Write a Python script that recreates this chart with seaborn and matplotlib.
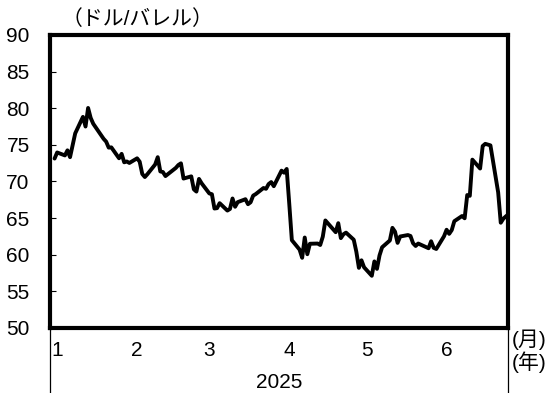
import matplotlib
matplotlib.use("Agg")
import matplotlib.pyplot as plt
import matplotlib.dates as mdates
from matplotlib import font_manager
import seaborn as sns
import pandas as pd
import numpy as np

# WTI-like daily closes, Jan 2 - Jun 27 2025
dates = [
    "2025-01-02", "2025-01-03", "2025-01-06", "2025-01-07", "2025-01-08", "2025-01-10",
    "2025-01-13", "2025-01-14", "2025-01-15", "2025-01-16", "2025-01-17", "2025-01-21",
    "2025-01-22", "2025-01-23", "2025-01-24", "2025-01-27", "2025-01-28", "2025-01-29",
    "2025-01-30", "2025-01-31",
    "2025-02-03", "2025-02-04", "2025-02-05", "2025-02-06", "2025-02-07", "2025-02-10",
    "2025-02-11", "2025-02-12", "2025-02-13", "2025-02-14", "2025-02-18", "2025-02-19",
    "2025-02-20", "2025-02-21", "2025-02-24", "2025-02-25", "2025-02-26", "2025-02-27",
    "2025-02-28",
    "2025-03-03", "2025-03-04", "2025-03-05", "2025-03-06", "2025-03-07", "2025-03-10",
    "2025-03-11", "2025-03-12", "2025-03-13", "2025-03-14", "2025-03-17", "2025-03-18",
    "2025-03-19", "2025-03-20", "2025-03-21", "2025-03-24", "2025-03-25", "2025-03-26",
    "2025-03-27", "2025-03-28", "2025-03-31",
    "2025-04-01", "2025-04-02", "2025-04-03", "2025-04-04", "2025-04-07", "2025-04-08",
    "2025-04-09", "2025-04-10", "2025-04-11", "2025-04-14", "2025-04-15", "2025-04-16",
    "2025-04-17", "2025-04-21", "2025-04-22", "2025-04-23", "2025-04-24", "2025-04-25",
    "2025-04-28", "2025-04-29", "2025-04-30",
    "2025-05-01", "2025-05-02", "2025-05-05", "2025-05-06", "2025-05-07", "2025-05-08",
    "2025-05-09", "2025-05-12", "2025-05-13", "2025-05-14", "2025-05-15", "2025-05-16",
    "2025-05-19", "2025-05-20", "2025-05-21", "2025-05-22", "2025-05-23", "2025-05-27",
    "2025-05-28", "2025-05-29", "2025-05-30",
    "2025-06-02", "2025-06-03", "2025-06-04", "2025-06-05", "2025-06-06", "2025-06-09",
    "2025-06-10", "2025-06-11", "2025-06-12", "2025-06-13", "2025-06-16", "2025-06-17",
    "2025-06-18", "2025-06-20", "2025-06-23", "2025-06-24", "2025-06-25", "2025-06-26",
    "2025-06-27",
]
prices = [
    73.13, 73.96, 73.56, 74.25, 73.32, 76.57,
    78.82, 77.50, 80.04, 78.68, 77.88, 75.83,
    75.44, 74.62, 74.66, 73.17, 73.77, 72.62,
    72.73, 72.53,
    73.16, 72.70, 71.03, 70.61, 71.00, 72.32,
    73.32, 71.37, 71.29, 70.74, 71.85, 72.25,
    72.48, 70.40, 70.70, 68.93, 68.62, 70.35,
    69.76,
    68.37, 68.26, 66.31, 66.36, 67.04, 66.03,
    66.25, 67.68, 66.55, 67.18, 67.58, 66.90,
    67.16, 68.07, 68.28, 69.11, 69.00, 69.65,
    69.92, 69.36, 71.48,
    71.20, 71.71, 66.95, 61.99, 60.70, 59.58,
    62.35, 60.07, 61.50, 61.53, 61.33, 62.47,
    64.68, 63.08, 64.31, 62.27, 62.79, 63.02,
    62.05, 60.42, 58.21,
    59.24, 58.29, 57.13, 59.09, 58.07, 59.91,
    61.02, 61.95, 63.67, 63.15, 61.62, 62.49,
    62.69, 62.56, 61.57, 61.20, 61.53, 60.89,
    61.84, 60.94, 60.79,
    62.52, 63.41, 62.85, 63.37, 64.58, 65.29,
    64.98, 68.15, 68.04, 72.98, 71.77, 74.84,
    75.14, 74.93, 68.51, 64.37, 64.92, 65.24,
    65.52,
]
month_labels = ["1", "2", "3", "4", "5", "6"]
month_label_dates = ["2025-01-03", "2025-02-03", "2025-03-03", "2025-04-03", "2025-05-03", "2025-06-03"]
y_ticks = [50, 55, 60, 65, 70, 75, 80, 85, 90]
year_label = "2025"
unit_label = "（ドル/バレル）"

df = pd.DataFrame({"date": pd.to_datetime(dates), "price": prices})

sns.set_theme(style="white")
avail = {f.name for f in font_manager.fontManager.ttflist}
base = "Liberation Sans Narrow" if "Liberation Sans Narrow" in avail else "Liberation Sans"
plt.rcParams["font.family"] = [base, "Noto Sans CJK JP", "DejaVu Sans"]

FS = 15

fig = plt.figure(figsize=(5.53, 3.93), dpi=100)
ax = fig.add_axes([0.0913, 0.1654, 0.8282, 0.7456])

sns.lineplot(data=df, x="date", y="price", ax=ax, color="black", linewidth=2.8)
for ln in ax.get_lines():
    ln.set_solid_joinstyle("round")
    ln.set_solid_capstyle("round")

x0 = mdates.date2num(pd.Timestamp("2024-12-31 10:00"))
x1 = mdates.date2num(pd.Timestamp("2025-06-27 00:00"))
ax.set_xlim(x0, x1)
ax.set_ylim(50, 90)
ax.set_yticks(y_ticks)
ax.set_yticklabels([str(v) for v in y_ticks], fontsize=FS, color="black")
ax.tick_params(axis="y", direction="in", length=4, width=0.8, left=True, pad=15, colors="black")
ax.tick_params(axis="x", bottom=False, labelbottom=False)
ax.set_xlabel("")
ax.set_ylabel("")
for s in ax.spines.values():
    s.set_visible(True)
    s.set_linewidth(3.0)
    s.set_color("black")

# month labels
for lab, d in zip(month_labels, month_label_dates):
    xv = mdates.date2num(pd.Timestamp(d))
    ax.text(xv, -0.045, lab, transform=ax.get_xaxis_transform(), ha="center", va="top",
            fontsize=FS, color="black")
ax.text(0.5, -0.155, year_label, transform=ax.transAxes, ha="center", va="top",
        fontsize=FS, color="black")

# group separator lines below axis
for xf in (0.0, 1.0):
    ax.plot([xf, xf], [0, -0.25], transform=ax.transAxes, color="black", lw=0.9,
            clip_on=False, solid_capstyle="butt")

ax.text(1.008, -0.005, "(月)", transform=ax.transAxes, ha="left", va="top", fontsize=FS,
        color="black")
ax.text(1.008, -0.08, "(年)", transform=ax.transAxes, ha="left", va="top", fontsize=FS,
        color="black")

fig.text(62 / 553, 1 - 19 / 393, unit_label, ha="left", va="center", fontsize=FS, color="black")

fig.savefig("out.png", dpi=100)
